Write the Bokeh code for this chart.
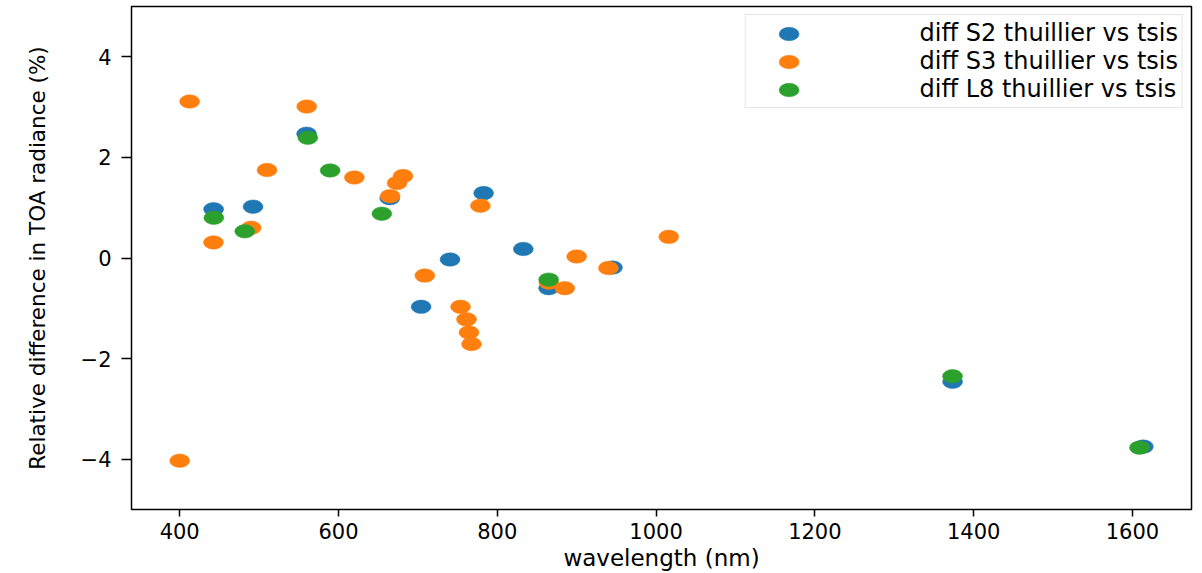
from bokeh.plotting import figure
from bokeh.models import Range1d, FixedTicker, Legend, LegendItem
from bokeh.embed import file_html
from bokeh.resources import INLINE

# Relative difference (%) in TOA radiance, Thuillier vs TSIS solar spectrum,
# at the band centres of each sensor
s2_wavelength = [442.7, 492.4, 559.8, 664.6, 704.1, 740.5, 782.8, 832.8, 864.7, 945.1, 1373.5, 1613.7]
s2_diff = [0.97, 1.02, 2.47, 1.19, -0.97, -0.03, 1.29, 0.18, -0.60, -0.19, -2.46, -3.75]

s3_wavelength = [400.0, 412.5, 442.5, 490.0, 510.0, 560.0, 620.0, 665.0, 673.75, 681.25,
                 708.75, 753.75, 761.25, 764.375, 767.5, 778.75, 865.0, 885.0, 900.0, 940.0, 1016.0]
s3_diff = [-4.03, 3.11, 0.31, 0.60, 1.75, 3.01, 1.60, 1.23, 1.49, 1.63,
           -0.35, -0.97, -1.22, -1.48, -1.71, 1.04, -0.49, -0.60, 0.03, -0.20, 0.42]

l8_wavelength = [443.0, 482.0, 561.4, 589.5, 654.6, 864.7, 1373.4, 1608.9]
l8_diff = [0.80, 0.53, 2.39, 1.74, 0.88, -0.43, -2.35, -3.77]

series_labels = ["diff S2 thuillier vs tsis", "diff S3 thuillier vs tsis", "diff L8 thuillier vs tsis"]
series_colors = ["#1f77b4", "#ff7f0e", "#2ca02c"]

x_ticks = [400, 600, 800, 1000, 1200, 1400, 1600]
y_ticks = [-4, -2, 0, 2, 4]
y_tick_labels = ["\u22124", "\u22122", "0", "2", "4"]

FONT = "DejaVu Sans"

p = figure(
    width=1202, height=573,
    x_range=Range1d(339.3, 1674.4), y_range=Range1d(-5, 5),
    output_backend="svg", toolbar_location=None,
    min_border_left=131, min_border_right=11, min_border_top=6, min_border_bottom=63,
)
p.xgrid.visible = False
p.ygrid.visible = False
p.outline_line_color = "black"
p.outline_line_width = 1.5
p.background_fill_color = "white"
p.border_fill_color = "white"

renderers = []
for xs, ys, color in zip([s2_wavelength, s3_wavelength, l8_wavelength],
                         [s2_diff, s3_diff, l8_diff], series_colors):
    r = p.ellipse(x=xs, y=ys, width=20, height=13.5,
                  width_units="screen", height_units="screen",
                  fill_color=color, line_color=color, line_width=0.5)
    renderers.append(r)

# axes
p.xaxis.ticker = FixedTicker(ticks=x_ticks)
p.yaxis.ticker = FixedTicker(ticks=y_ticks)
p.yaxis.major_label_overrides = {t: lab for t, lab in zip(y_ticks, y_tick_labels)}
p.xaxis.axis_label = "wavelength (nm)"
p.yaxis.axis_label = "Relative difference in TOA radiance (%)"

for ax in (p.xaxis[0], p.yaxis[0]):
    ax.axis_line_color = None
    ax.major_tick_line_color = "black"
    ax.major_tick_line_width = 1.5
    ax.major_tick_in = 0
    ax.minor_tick_line_color = None
    ax.major_label_text_font = FONT
    ax.major_label_text_font_size = "21px"
    ax.major_label_text_color = "black"
    ax.axis_label_text_font = FONT
    ax.axis_label_text_font_style = "normal"
    ax.axis_label_text_color = "black"

p.xaxis.major_tick_out = 7
p.yaxis.major_tick_out = 10
p.xaxis.major_label_standoff = 6
p.yaxis.major_label_standoff = 10
p.xaxis.axis_label_text_font_size = "23px"
p.xaxis.axis_label_standoff = 3
p.yaxis.axis_label_text_font_size = "21.5px"
p.yaxis.axis_label_standoff = 28

legend = Legend(
    items=[LegendItem(label=lab, renderers=[r]) for lab, r in zip(series_labels, renderers)],
    location="top_right",
    margin=8, padding=4, spacing=0,
    glyph_width=78, glyph_height=25, label_standoff=92,
    label_text_font=FONT, label_text_font_size="24px", label_text_color="black",
    border_line_color="#cccccc", border_line_width=1.5,
    background_fill_color="white", background_fill_alpha=0.8,
)
p.add_layout(legend)

open("out.html", "w").write(file_html(p, INLINE))
